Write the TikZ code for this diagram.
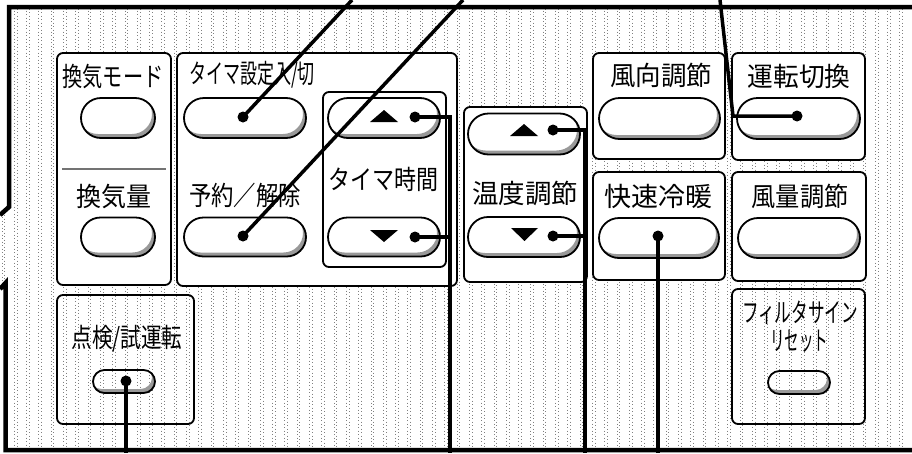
\documentclass[tikz,border=0pt]{standalone}
\usepackage{fontspec}
\usepackage{graphicx}
\newfontfamily\jp{Noto Sans CJK JP}
\usetikzlibrary{shapes.misc}
\newsavebox\myLblBox
\newlength\myLblDim
\newcommand\fitw[2]{\sbox\myLblBox{#2}\setlength\myLblDim{\wd\myLblBox}\pgfmathsetmacro\myLblFac{#1/\myLblDim}\scalebox{\myLblFac}[1]{\usebox\myLblBox}}
\tikzset{
  frame/.style={line width=4.5pt, line join=miter},
  dotcol/.style={line width=1pt, black!50, dash pattern=on 1pt off 2.5pt},
  panel/.style={draw, line width=1.8pt, rounded corners=6pt, fill=white, inner sep=0pt, rectangle},
  panelo/.style={draw, line width=1.8pt, rounded corners=6pt, inner sep=0pt, rectangle},
  lbl/.style={font=\jp\fontsize{26.5}{26.5}\selectfont, inner sep=0pt},
  btnbase/.style n args={3}{rounded rectangle, draw, line width=1.8pt, inner sep=0pt,
    minimum width=#1, minimum height=#2,
    path picture={\fill[black!40, even odd rule]
      ([xshift=-6pt,yshift=-6pt]path picture bounding box.south west) rectangle ([xshift=6pt,yshift=6pt]path picture bounding box.north east)
      [rounded corners=#3] ([xshift=-3pt,yshift=4pt]path picture bounding box.south west) rectangle ([xshift=-3pt,yshift=4pt]path picture bounding box.north east);}},
  btn/.style n args={3}{btnbase={#1}{#2}{#3}, fill=white},
  sbtn/.style n args={3}{btnbase={#1}{#2}{#3}},
  dot/.style={circle, fill=black, inner sep=0pt, minimum size=11pt},
  lead/.style={line width=3.5pt},
  tri/.style={fill=black},
  divider/.style={line width=1.5pt, black!55}
}
\begin{document}
\begin{tikzpicture}[x=1pt,y=-1pt]
\useasboundingbox (0,0) rectangle (912,453);
\fill[white] (0,0) rectangle (912,453);
% dotted background
\begin{scope}
\clip (9,7) -- (912,7) -- (912,450) -- (5.5,450) -- (5.5,283) -- (0,289) -- (0,215) -- (9,207) -- cycle;
\foreach \i in {0,...,74} {
  \draw[dotcol] (\i*12.3+2,0) -- (\i*12.3+2,453);
  \draw[dotcol] (\i*12.3+4.7,1.5) -- (\i*12.3+4.7,453);
}
\end{scope}
% frame
\draw[frame] (912,7) -- (9,7) -- (9,207) -- (0,215);
\draw[frame] (0,289) -- (5.5,283) -- (5.5,450) -- (912,450);
% panels
\node[panel, minimum width=114pt, minimum height=232pt] (p1) at (114,169) {};
\node[panel, minimum width=280pt, minimum height=233pt] (p2) at (317,169.5) {};
\node[panel, minimum width=123pt, minimum height=175pt] (p2s) at (384.5,179.5) {};
\node[panel, minimum width=123pt, minimum height=175pt] (p3) at (525.5,194.5) {};
\node[panel, minimum width=132pt, minimum height=106pt] (p4) at (659,106) {};
\node[panel, minimum width=133pt, minimum height=107pt] (p5) at (798.5,106.5) {};
\node[panel, minimum width=132pt, minimum height=108pt] (p6) at (659,226) {};
\node[panel, minimum width=134pt, minimum height=109pt] (p7) at (799,226.5) {};
\node[panelo, minimum width=133pt, minimum height=135pt] (p8) at (798.5,356.5) {};
\node[panelo, minimum width=137pt, minimum height=129pt] (p9) at (125.5,359.5) {};
\draw[divider] (62,169) -- (166,169);
% labels
\node[lbl] (l1) at (113,77) {\fitw{101pt}{換気モード}};
\node[lbl] (l2) at (114,197) {\fitw{75pt}{換気量}};
\node[lbl] (l3) at (252,75) {\fitw{126pt}{タイマ設定入/切}};
\node[lbl] (l4) at (245,195) {\fitw{112pt}{予約／解除}};
\node[lbl] (l5) at (383,179) {\fitw{110pt}{タイマ時間}};
\node[lbl] (l6) at (525,193) {\fitw{106pt}{温度調節}};
\node[lbl] (l7) at (661,75) {\fitw{102pt}{風向調節}};
\node[lbl] (l8) at (799,76) {\fitw{103pt}{運転切換}};
\node[lbl] (l9) at (658,196) {\fitw{108pt}{快速冷暖}};
\node[lbl] (l10) at (800,196) {\fitw{97pt}{風量調節}};
\node[lbl] (l11) at (127,339) {\fitw{111pt}{点検/試運転}};
\node[lbl] (l12) at (800,313) {\fitw{116pt}{フィルタサイン}};
\node[lbl] (l13) at (799,341) {\fitw{58pt}{リセット}};
% buttons
\node[btn={74pt}{40pt}{20pt}] (b1) at (118,118) {};
\node[btn={74pt}{39pt}{19.5pt}] (b2) at (118,237) {};
\node[btn={122pt}{40pt}{20pt}] (b3) at (245,118) {};
\node[btn={122pt}{39pt}{19.5pt}] (b4) at (245,237) {};
\node[btn={112pt}{40pt}{20pt}] (b5) at (384,118) {};
\node[btn={112pt}{39pt}{19.5pt}] (b6) at (384,237) {};
\node[btn={112pt}{41pt}{20.5pt}] (b7) at (524,134) {};
\node[btn={112pt}{40pt}{20pt}] (b8) at (524,237) {};
\node[btn={121pt}{41pt}{20.5pt}] (b9) at (659.5,118.5) {};
\node[btn={123pt}{41pt}{20.5pt}] (b10) at (798.5,118.5) {};
\node[btn={120pt}{40pt}{20pt}] (b11) at (659,238) {};
\node[btn={122pt}{40pt}{20pt}] (b12) at (799,238) {};
\node[sbtn={62pt}{23pt}{11.5pt}] (b13) at (799,382.5) {};
\node[sbtn={62pt}{23pt}{11.5pt}] (b14) at (124,381.5) {};
% triangles
\fill[tri] (370,122) -- (398,122) -- (384,110) -- cycle;
\fill[tri] (370,230) -- (398,230) -- (384,242) -- cycle;
\fill[tri] (510,136) -- (538,136) -- (524,124) -- cycle;
\fill[tri] (511,228) -- (538,228) -- (524.5,241) -- cycle;
% leader dots
\node[dot] (d3) at (243,117) {};
\node[dot] (d4) at (243,236) {};
\node[dot] (d5) at (415,117) {};
\node[dot] (d6) at (415,237) {};
\node[dot] (d7) at (553,130) {};
\node[dot] (d8) at (553,236) {};
\node[dot] (d10) at (797,116) {};
\node[dot] (d11) at (658,236) {};
\node[dot] (d14) at (126,381) {};
% leader end points
\coordinate (t3) at (352,0);
\coordinate (t4) at (463,0);
\coordinate (k10) at (733,116);
\coordinate (t10) at (720,0);
\coordinate (k5) at (450,117);
\coordinate (k6) at (450,237);
\coordinate (e5) at (450,453);
\coordinate (k7) at (585,130);
\coordinate (k8) at (585,236);
\coordinate (e7) at (585,453);
\coordinate (e11) at (658,453);
\coordinate (e14) at (126,453);
% leaders
\draw[lead] (d3.center) -- (t3);
\draw[lead] (d4.center) -- (t4);
\draw[lead] (d10.center) -- (k10) -- (t10);
\draw[lead] (d5.center) -- (k5) -- (e5);
\draw[lead] (d6.center) -- (k6);
\draw[lead] (d7.center) -- (k7) -- (e7);
\draw[lead] (d8.center) -- (k8);
\draw[lead] (d11.center) -- (e11);
\draw[lead] (d14.center) -- (e14);
\end{tikzpicture}
\end{document}
